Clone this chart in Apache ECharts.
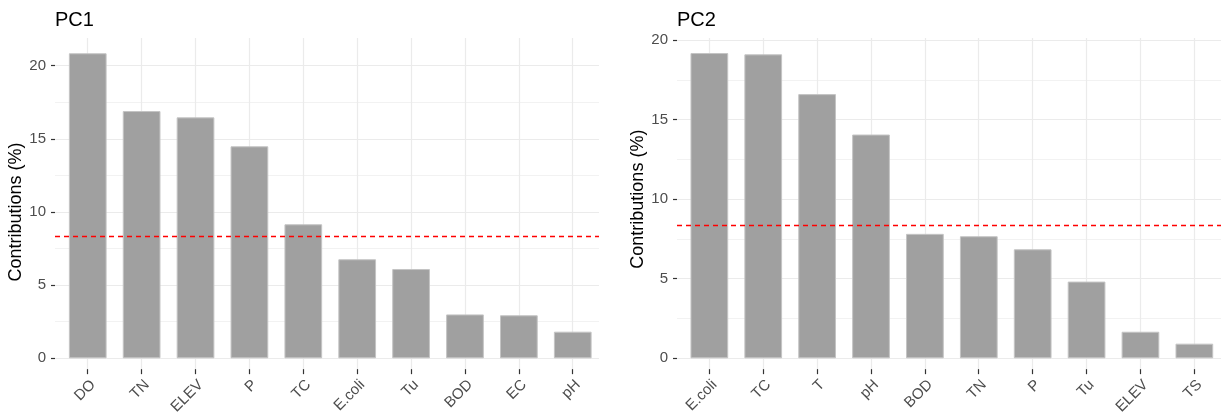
<!DOCTYPE html>
<html>
<head>
<meta charset="utf-8">
<script src="https://cdn.jsdelivr.net/npm/echarts@6/dist/echarts.min.js"></script>
<style>
  html, body {
    margin: 0;
    padding: 0;
    background: #fff;
  }
  #chart {
    width: 1227px;
    height: 417px;
  }
</style>
</head>
<body>
<div id="chart"></div>
<script>
// PC1 contributions
const pc1Cats = ['DO', 'TN', 'ELEV', 'P', 'TC', 'E.coli', 'Tu', 'BOD', 'EC', 'pH']
const pc1Vals = [20.85, 16.9, 16.47, 14.49, 9.16, 6.77, 6.1, 3.0, 2.94, 1.82]
// PC2 contributions
const pc2Cats = ['E.coli', 'TC', 'T', 'pH', 'BOD', 'TN', 'P', 'Tu', 'ELEV', 'TS']
const pc2Vals = [19.18, 19.1, 16.6, 14.06, 7.82, 7.67, 6.85, 4.82, 1.67, 0.92]
// expected average contribution (100 / 12 variables)
const refLine = 8.33
const yMax = 20
const yStep = 5

const font = 'Liberation Sans, Arial, sans-serif'
const gridColor = '#ebebeb'

// one panel = 3 grids: frame (y grid + labels), bars, x grid + labels
const panel = (p, idx) => {
  const grids = [
    {left: p.frameLeft, width: p.frameWidth, top: p.y20, height: p.y0 - p.y20},
    {left: p.barLeft, width: p.barWidth, top: p.y20, height: p.y0 - p.y20},
    {left: p.cat0, width: p.catN - p.cat0, top: 38, height: 334}
  ]
  const g = idx * 3
  const xAxes = [
    {gridIndex: g, type: 'value', min: 0, max: 1, show: false},
    {gridIndex: g + 1, type: 'category', data: p.cats, boundaryGap: true, show: false},
    {
      gridIndex: g + 2, type: 'category', data: p.cats, boundaryGap: false,
      axisLine: {show: false},
      axisTick: {show: true, interval: 0, length: 5, lineStyle: {color: '#333', width: 1.2}},
      splitLine: {show: true, interval: 0, lineStyle: {color: gridColor, width: 1.2}},
      axisLabel: {
        interval: 0, rotate: 45, align: 'right', verticalAlign: 'top', margin: 8,
        color: '#4d4d4d', fontSize: 15, fontFamily: font
      }
    }
  ]
  const yAxes = [
    {
      gridIndex: g, type: 'value', min: 0, max: yMax, interval: yStep,
      name: 'Contributions (%)', nameLocation: 'middle', nameRotate: 90, nameGap: p.nameGap,
      nameTextStyle: {color: '#000', fontSize: 18, fontFamily: font},
      axisLine: {show: false},
      axisTick: {show: true, length: 4, lineStyle: {color: '#333', width: 1.2}},
      axisLabel: {margin: 9, color: '#4d4d4d', fontSize: 15, fontFamily: font},
      splitLine: {show: true, lineStyle: {color: gridColor, width: 1.2}},
      minorTick: {show: false, splitNumber: 2},
      minorSplitLine: {show: true, lineStyle: {color: '#f2f2f2', width: 1}}
    },
    {gridIndex: g + 1, type: 'value', min: 0, max: yMax, show: false},
    {gridIndex: g + 2, type: 'value', show: false}
  ]
  const series = [
    {
      type: 'line', xAxisIndex: g, yAxisIndex: g, data: [], silent: true,
      markLine: {
        silent: true, symbol: 'none', label: {show: false},
        lineStyle: {color: '#ff0000', type: [5, 4], width: 1.3},
        data: [{yAxis: refLine}]
      }
    },
    {
      type: 'bar', xAxisIndex: g + 1, yAxisIndex: g + 1, data: p.vals,
      barWidth: '70%', clip: false, z: 1,
      itemStyle: {color: '#a0a0a0', borderColor: '#c4c4c4', borderWidth: 1}
    }
  ]
  const title = {
    text: p.title, left: p.frameLeft - 5, top: 5,
    textStyle: {color: '#000', fontSize: 20, fontWeight: 'normal', fontFamily: font}
  }
  return {grids, xAxes, yAxes, series, title}
}

const left = panel({
  title: 'PC1', cats: pc1Cats, vals: pc1Vals,
  frameLeft: 55, frameWidth: 544, barLeft: 60.8, barWidth: 538.9,
  cat0: 87.7, catN: 572.7, y20: 65.7, y0: 358.3, nameGap: 28
}, 0)
const right = panel({
  title: 'PC2', cats: pc2Cats, vals: pc2Vals,
  frameLeft: 677, frameWidth: 544, barLeft: 682.4, barWidth: 538.9,
  cat0: 709.3, catN: 1194.3, y20: 40, y0: 358.3, nameGap: 30
}, 1)

const myChart = echarts.init(document.getElementById('chart'))
const option = {
  animation: false,
  backgroundColor: '#fff',
  title: [left.title, right.title],
  grid: [...left.grids, ...right.grids],
  xAxis: [...left.xAxes, ...right.xAxes],
  yAxis: [...left.yAxes, ...right.yAxes],
  series: [...left.series, ...right.series]
}
myChart.setOption(option)
</script>
</body>
</html>
